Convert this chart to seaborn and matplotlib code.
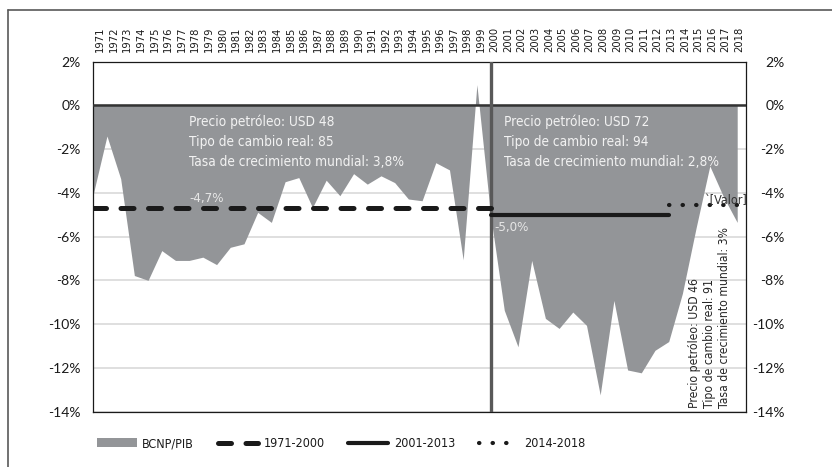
import numpy as np
import pandas as pd
import matplotlib
matplotlib.use("Agg")
import matplotlib.pyplot as plt
import seaborn as sns
from matplotlib import font_manager
from matplotlib.lines import Line2D
from matplotlib.patches import Patch

# Data
years = list(range(1971, 2019))
bcnp = [-4.05, -1.40, -3.35, -7.78, -8.00, -6.64, -7.09, -7.09, -6.94, -7.28,
        -6.49, -6.33, -4.89, -5.35, -3.49, -3.30, -4.67, -3.42, -4.13, -3.12,
        -3.60, -3.22, -3.53, -4.28, -4.36, -2.62, -2.95, -7.06, 0.95, -5.00,
        -9.37, -11.04, -7.09, -9.74, -10.20, -9.45, -10.06, -13.24, -8.92, -12.10,
        -12.23, -11.20, -10.80, -8.60, -5.60, -2.77, -4.18, -5.35]

periods = ["1971-2000", "2001-2013", "2014-2018"]
period_start = [1971, 2000, 2013]
period_end = [2000, 2013, 2018]
period_avg = [-4.7, -5.0, -4.55]

yticks = [2, 0, -2, -4, -6, -8, -10, -12, -14]
ytick_labels = ["2%", "0%", "-2%", "-4%", "-6%", "-8%", "-10%", "-12%", "-14%"]

text_p1 = "Precio petróleo: USD 48\nTipo de cambio real: 85\nTasa de crecimiento mundial: 3,8%"
text_p2 = "Precio petróleo: USD 72\nTipo de cambio real: 94\nTasa de crecimiento mundial: 2,8%"
text_p3 = "Precio petróleo: USD 46\nTipo de cambio real: 91\nTasa de crecimiento mundial: 3%"

sns.set_theme(style="white")

# pick a narrow-ish font if one is installed
fonts = font_manager.fontManager.ttflist
names = {f.name for f in fonts}
if "Liberation Sans Narrow" in names:
    narrow = dict(family=["Liberation Sans Narrow", "DejaVu Sans"], stretch="normal")
elif any(f.name == "DejaVu Sans" and f.stretch == "condensed" for f in fonts):
    narrow = dict(family=["DejaVu Sans"], stretch="condensed")
else:
    narrow = dict(family=["Liberation Sans", "DejaVu Sans"], stretch="normal")
plt.rcParams["font.family"] = narrow["family"]
plt.rcParams["font.stretch"] = narrow["stretch"]

df = pd.DataFrame({"year": years, "bcnp": bcnp})

fig = plt.figure(figsize=(8.32, 4.67), dpi=100)
ax = fig.add_axes([0.1121, 0.1188, 0.7845, 0.7491])

gray = "#939598"
dark = "#1a1a1a"

# area
ax.fill_between(df["year"], 0, df["bcnp"], color=gray, lw=0, zorder=2)

# period averages
styles = [
    dict(dashes=(2.6, 2.9), dash_capstyle="round", lw=3.6),
    dict(linestyle="-", solid_capstyle="round", lw=3.0),
    dict(dashes=(0.1, 3.15), dash_capstyle="round", lw=3.0),
]
for p, s, e, v, st in zip(periods, period_start, period_end, period_avg, styles):
    seg = pd.DataFrame({"year": [s, e], "val": [v, v]})
    sns.lineplot(data=seg, x="year", y="val", ax=ax, color=dark, zorder=5, **st)

ax.axhline(0, color="#333333", lw=1.8, zorder=3)
ax.axvline(2000, color="#595959", lw=2.4, zorder=4)

ax.set_xlim(1971, 1971 + 47.64)
ax.set_ylim(-14, 2)
ax.set_xlabel("")
ax.set_ylabel("")
ax.set_xticks([])
ax.set_yticks(yticks)
ax.set_yticklabels(ytick_labels, family=["Lato", "DejaVu Sans"], stretch="normal",
                   fontsize=10, color=dark)
ax.tick_params(axis="y", length=0, pad=9)
ax.grid(axis="y", color="#d9d9d9", lw=1.2)
ax.set_axisbelow(True)
for sp in ax.spines.values():
    sp.set_color(dark)
    sp.set_linewidth(0.9)

# right axis labels
ax_r = ax.twinx()
ax_r.set_ylim(-14, 2)
ax_r.set_yticks(yticks)
ax_r.set_yticklabels(ytick_labels, family=["Lato", "DejaVu Sans"], stretch="normal",
                     fontsize=10, color=dark, ha="right")
ax_r.tick_params(axis="y", length=0, pad=28)
ax_r.grid(False)
for sp in ax_r.spines.values():
    sp.set_visible(False)

# top year labels
ax_t = ax.twiny()
ax_t.set_xlim(0, len(years))
ax_t.set_xticks(np.arange(len(years)) + 0.5)
ax_t.set_xticklabels([str(y) for y in years], rotation=90, fontsize=8, color=dark)
ax_t.tick_params(axis="x", length=0, pad=7)
ax_t.grid(False)
for sp in ax_t.spines.values():
    sp.set_visible(False)

# annotations
ax.text(1978, -0.40, text_p1, color="#f2f2f2", fontsize=9.8, va="top", ha="left",
        linespacing=1.56, zorder=6)
ax.text(2001, -0.40, text_p2, color="#f2f2f2", fontsize=9.8, va="top", ha="left",
        linespacing=1.56, zorder=6)
ax.text(1978, -4.27, "-4,7%", color="#e6e6e6", fontsize=9.5, va="center", ha="left", zorder=6)
ax.text(2000.25, -5.58, "-5,0%", color="#e6e6e6", fontsize=9.5, va="center", ha="left", zorder=6)
ax.text(2015.55, -4.36, "`[Valor]", color="#333333", fontsize=9, va="center", ha="left", zorder=6)
ax.text(2016.0, -13.84, text_p3, color="#262626", fontsize=8.7, rotation=90,
        ha="center", va="bottom", multialignment="left", linespacing=1.2, zorder=6)

# legend
handles = [
    Patch(facecolor=gray, edgecolor="none"),
    Line2D([], [], color=dark, **styles[0]),
    Line2D([], [], color=dark, **styles[1]),
    Line2D([], [], color=dark, **styles[2]),
]
fig.legend(handles, ["BCNP/PIB"] + periods, loc="center", bbox_to_anchor=(0.41, 0.05),
           ncol=4, frameon=False, fontsize=9, handlelength=3.2, handletextpad=0.45,
           columnspacing=1.9, labelcolor=dark)

# outer frame lines
fig.add_artist(Line2D([8 / 832, 1], [1 - 10 / 467, 1 - 10 / 467], transform=fig.transFigure,
                      color="#595959", lw=1.2))
fig.add_artist(Line2D([8 / 832, 8 / 832], [0, 1 - 10 / 467], transform=fig.transFigure,
                      color="#595959", lw=1.2))

fig.savefig("out.png", dpi=100)
